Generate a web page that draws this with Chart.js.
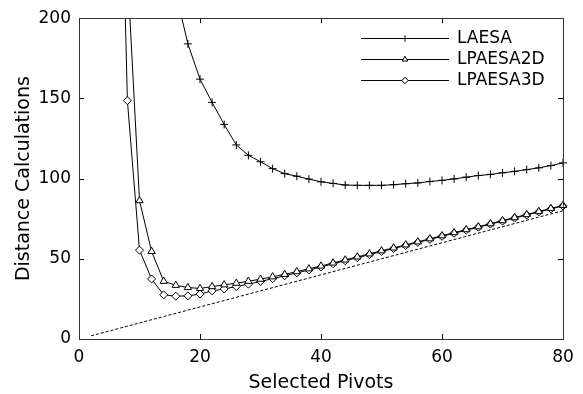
<!DOCTYPE html>
<html>
<head>
<meta charset="utf-8">
<script src="https://cdn.jsdelivr.net/npm/chart.js@4.4.1/dist/chart.umd.min.js"></script>
<style>
    html, body { margin: 0; padding: 0; background: #fff; }
    #chart { display: block; }
</style>
</head>
<body>
<canvas id="chart" width="583" height="394"></canvas>
<script>
// ========== Data ==========

const pivots = [6, 8, 10, 12, 14, 16, 18, 20, 22, 24, 26, 28, 30, 32, 34, 36, 38, 40, 42,
    44, 46, 48, 50, 52, 54, 56, 58, 60, 62, 64, 66, 68, 70, 72, 74, 76, 78, 80];

const laesa = [null, null, null, null, null, 216, 184, 162, 147.5, 133.7, 121, 114.5, 110.5,
    106.2, 103.1, 101.5, 99.7, 98, 97, 96, 95.8, 95.8, 95.8, 96.2, 96.8, 97.3, 98.2, 98.9,
    99.8, 100.9, 101.9, 102.6, 103.6, 104.5, 105.6, 106.7, 108.1, 109.8];

const lpaesa2d = [520, 230, 86.3, 54.6, 36, 33.5, 32.1, 31.5, 32.7, 33.8, 34.8, 36, 37.3,
    38.8, 40.3, 42, 43.8, 45.5, 47.4, 49.3, 51.2, 53.1, 55.0, 56.8, 58.7, 60.6, 62.5, 64.4,
    66.3, 68.2, 70.0, 71.9, 73.8, 75.7, 77.6, 79.5, 81.4, 83.3];

const lpaesa3d = [450, 148.6, 55.4, 37.4, 27.5, 26.7, 26.9, 28, 30, 31.2, 32.7, 34.2, 35.9,
    37.6, 39.4, 41.2, 43.0, 44.9, 46.9, 48.8, 50.7, 52.6, 54.5, 56.4, 58.3, 60.2, 62.1, 64.0,
    65.9, 67.8, 69.7, 71.6, 73.5, 75.4, 77.3, 79.2, 81.1, 83.0];

// dashed reference line (y = x)
const refX = [2, 80];
const refY = [2, 80];

const xTicks = [0, 20, 40, 60, 80];
const yTicks = [0, 50, 100, 150, 200];

const seriesNames = ['LAESA', 'LPAESA2D', 'LPAESA3D'];

// ========== Helpers ==========

const FONT = "'DejaVu Sans', sans-serif";
const toPoints = (xs, ys) => xs.map((x, i) => ({ x, y: ys[i] }));

function lineSeries(label, values, pointStyle, radius) {
    return {
        label,
        data: toPoints(pivots, values),
        borderColor: '#000',
        borderWidth: 1,
        tension: 0,
        fill: false,
        pointStyle,
        pointRadius: radius,
        pointBorderWidth: 1,
        pointBorderColor: '#000',
        pointBackgroundColor: '#fff',
        clip: { left: 5, top: 0, right: 6, bottom: 5 }
    };
}

// Box frame with inward ticks on all four sides (MATLAB look)
const framePlugin = {
    id: 'frame',
    afterDraw(chart) {
        const { ctx, chartArea: a, scales } = chart;
        const len = 5;
        ctx.save();
        ctx.strokeStyle = '#000';
        ctx.lineWidth = 1;
        ctx.beginPath();
        xTicks.forEach(v => {
            const px = Math.round(scales.x.getPixelForValue(v)) + 0.5;
            ctx.moveTo(px, a.bottom); ctx.lineTo(px, a.bottom - len);
            ctx.moveTo(px, a.top); ctx.lineTo(px, a.top + len);
        });
        yTicks.forEach(v => {
            const py = Math.round(scales.y.getPixelForValue(v)) + 0.5;
            ctx.moveTo(a.left, py); ctx.lineTo(a.left + len, py);
            ctx.moveTo(a.right, py); ctx.lineTo(a.right - len, py);
        });
        ctx.stroke();
        ctx.strokeStyle = '#333';
        ctx.strokeRect(Math.round(a.left) + 0.5, Math.round(a.top) + 0.5,
            Math.round(a.right - a.left), Math.round(a.bottom - a.top));
        ctx.restore();
    }
};

// Legend: line sample with the marker in its middle
const legendPlugin = {
    id: 'lineLegend',
    afterDatasetsDraw(chart) {
        const { ctx } = chart;
        const x0 = 361, x1 = 449, tx = 457, top = 38, step = 21;
        ctx.save();
        seriesNames.forEach((name, i) => {
            const ds = chart.data.datasets[i];
            const y = top + i * step;
            ctx.strokeStyle = '#000';
            ctx.lineWidth = 1;
            ctx.beginPath();
            ctx.moveTo(x0, y + 0.5);
            ctx.lineTo(x1, y + 0.5);
            ctx.stroke();
            ctx.fillStyle = '#fff';
            Chart.helpers.drawPoint(ctx, {
                pointStyle: ds.pointStyle, rotation: 0, radius: 3.2, borderWidth: 1
            }, (x0 + x1) / 2, y + 0.5);
            ctx.fillStyle = '#000';
            ctx.font = '17px ' + FONT;
            ctx.textBaseline = 'middle';
            ctx.fillText(name, tx, y + 1);
        });
        ctx.restore();
    }
};

// ========== Chart ==========

new Chart(document.getElementById('chart'), {
    type: 'line',
    data: {
        datasets: [
            lineSeries(seriesNames[0], laesa, 'cross', 4),
            lineSeries(seriesNames[1], lpaesa2d, 'triangle', 4.2),
            lineSeries(seriesNames[2], lpaesa3d, 'rectRot', 4),
            {
                label: 'ref',
                data: toPoints(refX, refY),
                borderColor: '#000',
                borderWidth: 1,
                borderDash: [3, 2],
                pointRadius: 0,
                tension: 0,
                fill: false
            }
        ]
    },
    options: {
        responsive: false,
        devicePixelRatio: 1,
        animation: false,
        events: [],
        layout: { padding: { top: 14, right: 20, left: 0, bottom: 0 } },
        plugins: {
            legend: { display: false },
            tooltip: { enabled: false }
        },
        scales: {
            x: {
                type: 'linear',
                min: 0,
                max: 80,
                afterBuildTicks: s => { s.ticks = xTicks.map(v => ({ value: v })); },
                ticks: { color: '#000', font: { size: 17, family: FONT }, padding: 8, maxRotation: 0 },
                grid: { display: false, drawTicks: false },
                border: { display: false },
                title: {
                    display: true, text: 'Selected Pivots', color: '#000',
                    font: { size: 19, family: FONT }, padding: { top: 1, bottom: 0 }
                },
                afterFit: s => { s.height = 55; }
            },
            y: {
                type: 'linear',
                min: 0,
                max: 200,
                afterBuildTicks: s => { s.ticks = yTicks.map(v => ({ value: v })); },
                ticks: { color: '#000', font: { size: 17, family: FONT }, padding: 8 },
                grid: { display: false, drawTicks: false },
                border: { display: false },
                title: {
                    display: true, text: 'Distance Calculations', color: '#000',
                    font: { size: 19, family: FONT }, padding: { top: 13, bottom: 0 }
                },
                afterFit: s => { s.width = 79; }
            }
        }
    },
    plugins: [framePlugin, legendPlugin]
});
</script>
</body>
</html>
